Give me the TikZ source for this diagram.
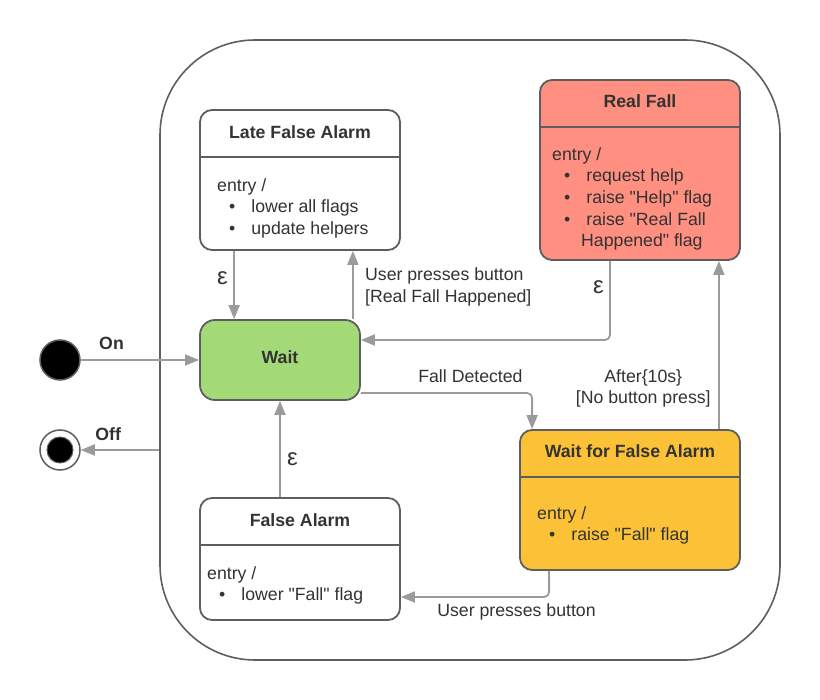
\documentclass[tikz,border=0pt]{standalone}
\usepackage{fontspec}
\setmainfont{Liberation Sans}[Ligatures=TeXOff]
\usetikzlibrary{arrows.meta, positioning}
\definecolor{txtgray}{HTML}{333333}
\definecolor{boxline}{HTML}{5E5E5E}
\definecolor{flowgray}{HTML}{9B9B9B}
\definecolor{waitgreen}{HTML}{A3D977}
\definecolor{fallred}{HTML}{FF8F80}
\definecolor{alarmyellow}{HTML}{FCC237}
\newcommand{\divline}[1]{\draw[boxline, line width=1.8pt] ([yshift=-48pt]#1.north west) -- ([yshift=-48pt]#1.north east);}
\newcommand{\bul}{\hspace*{12pt}\textbullet\hspace{16pt}}

\begin{document}
\begin{tikzpicture}[x=1pt, y=-1pt,
    statebox/.style={draw=boxline, line width=1.8pt, rounded corners=12pt, minimum width=200pt, inner sep=0pt},
    title/.style={font=\fontsize{17.7}{21.7}\selectfont\bfseries, text=txtgray},
    body/.style={font=\fontsize{17.7}{21.7}\selectfont, text=txtgray, align=left, anchor=north west, inner sep=0pt},
    lbl/.style={font=\fontsize{17.7}{21.7}\selectfont, text=txtgray},
    lblbold/.style={font=\fontsize{17.7}{21.7}\selectfont\bfseries, text=txtgray},
    eps/.style={font=\fontsize{24}{24}\selectfont, text=txtgray},
    flow/.style={draw=flowgray, line width=1.8pt, -{Triangle[length=14pt, width=11pt]}, rounded corners=5pt}
]
                        \fill[white] (0,0) rectangle (820,700);
                        \useasboundingbox (0,0) rectangle (820,700);

                        \node[draw=boxline, line width=1.6pt, rounded corners=95pt, minimum width=620pt, minimum height=620pt] (sys) at (470,350) {};

                        \node[circle, fill=black, draw=boxline, line width=1.5pt, minimum size=40pt, inner sep=0pt] (init) at (60,360) {};
                        \node[circle, fill=white, draw=boxline, line width=1.5pt, minimum size=40pt, inner sep=0pt] (final) at (60,450) {};
                        \node[circle, fill=black, draw=boxline, line width=1pt, minimum size=26pt, inner sep=0pt] (finaldot) at (final) {};

                        \node[statebox, fill=white, minimum height=140pt] (lfa) at (300,180) {};
                        \divline{lfa}
                        \node[title] (lfatitle) at (300,132) {Late False Alarm};
                        \node[body] (lfabody) at (217,178) {entry /\\\bul lower all flags\\\bul update helpers};

                        \node[statebox, fill=fallred, minimum height=180pt] (rf) at (640,170) {};
                        \divline{rf}
                        \node[title] (rftitle) at (640,101) {Real Fall};
                        \node[body] (rfbody) at (552,147) {entry /\\\bul request help\\\bul raise "Help" flag\\\bul raise "Real Fall\\\hspace*{29pt}Happened" flag};

                        \node[statebox, fill=waitgreen, minimum width=160pt, minimum height=80pt, rounded corners=15pt] (wait) at (280,360) {};
                        \node[title] (waittitle) at (280,357) {Wait};

                        \node[statebox, fill=alarmyellow, minimum width=220pt, minimum height=140pt] (wfa) at (630,500) {};
                        \divline{wfa}
                        \node[title] (wfatitle) at (630,451) {Wait for False Alarm};
                        \node[body] (wfabody) at (537,506) {entry /\\\bul raise "Fall" flag};

                        \node[statebox, fill=white, minimum height=122pt] (fa) at (300,559) {};
                        \divline{fa}
                        \node[title] (fatitle) at (300,520) {False Alarm};
                        \node[body] (fabody) at (207,566) {entry /\\\bul lower "Fall" flag};

                        \draw
                        (init) edge[flow] node[lblbold, above, pos=0.26, yshift=6pt]{On} (wait)
                        (sys.west |- final) edge[flow] node[lblbold, above, pos=0.65, yshift=5pt]{Off} (final)
                        ([xshift=35pt]lfa.south west) edge[flow] node[eps, left, pos=0.4, xshift=-2pt]{ε} ([xshift=35pt]wait.north west)
                        ([xshift=-8pt]wait.north east) edge[flow] node[lbl, right, align=left, xshift=8pt, yshift=-2pt]{User presses button\\{}[Real Fall Happened]} ([xshift=-48pt]lfa.south east)
                        ([xshift=-22pt]wfa.north east) edge[flow] node[lbl, left, align=center, pos=0.26, xshift=-4pt, yshift=-3pt]{After\{10s\}\\{}[No button press]} ([xshift=-22pt]rf.south east)
                        ([xshift=-20pt]fa.north) edge[flow] node[eps, right, pos=0.42, xshift=3pt, yshift=-2pt]{ε} (wait.south);

                        \draw[flow] ([xshift=-30pt]rf.south) |- node[eps, left, pos=0.16, xshift=-2pt, yshift=-1pt]{ε} ([yshift=20pt]wait.east);
                        \draw[flow] ([yshift=-33pt]wait.east) -| node[lbl, above, pos=0.32, yshift=6pt]{Fall Detected} ([xshift=13pt]wfa.north west);
                        \draw[flow] ([xshift=30pt]wfa.south west) |- node[lbl, below, pos=0.61, yshift=-2pt]{User presses button} ([yshift=-38pt]fa.east);
                    \end{tikzpicture}
\end{document}
